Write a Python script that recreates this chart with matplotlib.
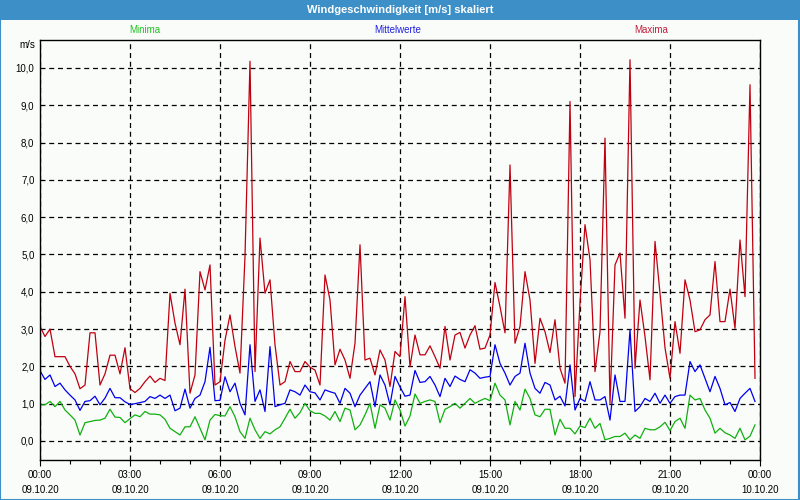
import matplotlib
matplotlib.use("Agg")
import matplotlib.pyplot as plt
import numpy as np
from matplotlib.patches import Rectangle
from matplotlib.ticker import FuncFormatter, MultipleLocator

# 10-minute values, 09.10.20 00:00 .. 23:50
maxima = [3.07, 2.8, 3.0, 2.26, 2.26, 2.26, 2.0, 1.8, 1.4, 1.5, 2.9, 2.9, 1.5, 1.8, 2.3, 2.3, 1.8, 2.5, 1.4, 1.3,
          1.41, 1.59, 1.74, 1.57, 1.68, 1.62, 3.96, 3.16, 2.58, 4.07, 1.28, 1.77, 4.54, 4.05, 4.72, 1.5, 1.59, 2.7, 3.38, 2.53,
          1.82, 4.95, 10.18, 1.86, 5.44, 3.96, 4.32, 2.58, 1.5, 1.59, 2.13, 1.86, 1.86, 2.13, 1.98, 1.9, 1.5, 4.45, 3.78, 2.04,
          2.46, 2.17, 1.68, 2.62, 5.26, 2.17, 2.22, 1.77, 2.44, 2.17, 1.46, 2.4, 2.26, 3.87, 1.99, 2.84, 2.31, 2.31, 2.55, 2.26,
          1.95, 3.07, 2.17, 2.84, 2.91, 2.49, 2.84, 3.09, 2.46, 2.49, 2.84, 4.25, 3.6, 2.9, 7.4, 2.62, 3.07, 4.54, 3.78, 2.08,
          3.29, 2.93, 2.37, 3.25, 1.95, 1.55, 9.1, 1.19, 3.7, 5.8, 4.86, 1.86, 2.93, 8.12, 1.01, 4.72, 5.04, 3.29, 10.22, 1.95,
          3.78, 2.8, 1.64, 5.35, 3.96, 2.5, 1.68, 3.2, 2.35, 4.32, 3.78, 2.93, 2.98, 3.25, 3.38, 4.81, 3.2, 3.2, 4.07, 3.02,
          5.39, 3.87, 9.55, 1.68]

mittelwerte = [1.88, 1.65, 1.77, 1.46, 1.55, 1.37, 1.23, 1.1, 0.82, 1.06, 1.08, 1.2, 0.97, 1.15, 1.41, 1.16, 1.16, 1.05, 0.98, 1.0,
               1.03, 1.06, 1.19, 1.14, 1.23, 1.14, 1.23, 0.81, 0.88, 1.39, 0.88, 1.14, 1.23, 1.59, 2.51, 1.08, 1.09, 1.72, 1.32, 1.55,
               1.01, 0.7, 2.58, 1.06, 1.37, 0.79, 2.53, 0.92, 0.97, 1.01, 1.37, 1.32, 1.23, 1.5, 1.32, 1.29, 1.1, 1.37, 1.32, 1.28,
               1.01, 1.41, 1.28, 0.92, 1.23, 1.41, 1.59, 0.92, 1.77, 1.5, 0.97, 1.73, 1.45, 1.2, 1.23, 1.89, 1.57, 1.59, 1.73, 1.5,
               1.19, 1.68, 1.46, 1.74, 1.65, 1.59, 1.91, 1.82, 1.68, 1.71, 1.73, 2.58, 2.08, 1.82, 1.5, 1.73, 1.82, 2.62, 1.82, 1.41,
               1.28, 1.57, 1.5, 1.1, 1.2, 0.94, 2.04, 0.83, 1.14, 1.06, 1.59, 1.1, 1.1, 1.19, 0.56, 1.77, 1.06, 1.06, 2.98, 0.79,
               0.92, 1.14, 1.06, 1.28, 1.01, 1.23, 1.01, 1.19, 1.23, 1.23, 2.13, 1.86, 2.04, 1.68, 1.32, 1.73, 1.41, 0.97, 1.03, 0.79,
               1.14, 1.28, 1.41, 1.06]

minima = [0.97, 0.97, 1.06, 0.92, 1.06, 0.83, 0.7, 0.56, 0.16, 0.49, 0.52, 0.55, 0.56, 0.61, 0.85, 0.64, 0.63, 0.49, 0.6, 0.7,
          0.65, 0.79, 0.72, 0.72, 0.7, 0.58, 0.34, 0.25, 0.16, 0.38, 0.38, 0.65, 0.34, 0.03, 0.56, 0.71, 0.68, 0.67, 0.92, 0.65,
          0.25, 0.07, 0.61, 0.3, 0.07, 0.25, 0.19, 0.3, 0.38, 0.61, 0.85, 0.61, 0.76, 1.01, 0.81, 0.74, 0.74, 0.67, 0.56, 0.79,
          0.52, 0.88, 0.83, 0.3, 0.43, 0.7, 1.01, 0.34, 0.97, 0.88, 0.56, 1.1, 0.83, 0.4, 0.67, 1.26, 1.01, 1.06, 1.1, 1.06,
          0.49, 0.85, 0.92, 1.01, 0.88, 1.01, 1.14, 1.01, 1.08, 1.14, 1.08, 1.55, 1.23, 1.1, 0.43, 1.06, 0.83, 1.39, 1.14, 0.7,
          0.65, 0.85, 0.85, 0.16, 0.58, 0.34, 0.34, 0.19, 0.4, 0.36, 0.61, 0.34, 0.47, 0.03, 0.07, 0.12, 0.12, 0.21, 0.03, 0.16,
          0.07, 0.34, 0.3, 0.3, 0.38, 0.5, 0.28, 0.52, 0.61, 0.34, 1.23, 1.1, 1.14, 0.83, 0.61, 0.21, 0.34, 0.22, 0.16, 0.07,
          0.34, 0.03, 0.13, 0.43]

tick_hours = [0, 3, 6, 9, 12, 15, 18, 21, 24]
tick_labels = ["00:00\n09.10.20", "03:00\n09.10.20", "06:00\n09.10.20", "09:00\n09.10.20", "12:00\n09.10.20",
               "15:00\n09.10.20", "18:00\n09.10.20", "21:00\n09.10.20", "00:00\n10.10.20"]

hours = np.arange(len(maxima)) * 10 / 60.0

plt.rcParams['font.family'] = ['Liberation Sans', 'DejaVu Sans']

bg = '#fafcfa'
fig = plt.figure(figsize=(8, 5), dpi=100, facecolor=bg)

# title bar and window frame
fig.patches.append(Rectangle((0, 0.96), 1, 0.04, transform=fig.transFigure,
                             facecolor='#3d8fc7', edgecolor='none', zorder=0))
fig.patches.append(Rectangle((0.0006, 0.001), 0.9982, 0.998, transform=fig.transFigure,
                             facecolor='none', edgecolor='#3d8fc7', lw=1.5, zorder=1))
fig.text(0.5, 0.98, "Windgeschwindigkeit [m/s] skaliert", color='white', fontsize=8,
         fontweight='bold', ha='center', va='center')

ax = fig.add_axes([0.05, 0.08, 0.9, 0.84], facecolor=bg)
ax.plot(hours, minima, color='#10b010', lw=0.9)
ax.plot(hours, mittelwerte, color='#0000ee', lw=0.9)
ax.plot(hours, maxima, color='#c00010', lw=0.9)

ax.set_xlim(0, 24)
ax.set_ylim(-0.51, 10.75)
ax.set_yticks(np.arange(0, 11, 1))
ax.yaxis.set_major_formatter(FuncFormatter(lambda v, p: f"{v:.1f}".replace('.', ',')))
ax.set_xticks(tick_hours)
ax.set_xticklabels(tick_labels, linespacing=1.6)
ax.xaxis.set_minor_locator(MultipleLocator(1))

ax.grid(True, which='major', color='black', linestyle=(0, (4, 3)), lw=0.9)
ax.tick_params(axis='y', length=0, labelsize=7, pad=4)
ax.tick_params(axis='x', which='major', length=4, labelsize=7, pad=3, width=0.8)
ax.tick_params(axis='x', which='minor', length=3, width=0.8)
for s in ax.spines.values():
    s.set_color('black')
    s.set_linewidth(1.0)

ax.text(-0.006, 1.0, "m/s", transform=ax.transAxes, ha='right', va='top', fontsize=7)
fig.text(0.181, 0.94, "Minima", color='#20c020', fontsize=7, ha='center', va='center')
fig.text(0.4975, 0.94, "Mittelwerte", color='#2020e0', fontsize=7, ha='center', va='center')
fig.text(0.814, 0.94, "Maxima", color='#c0203c', fontsize=7, ha='center', va='center')

fig.savefig("out.png", dpi=100, facecolor=bg)
